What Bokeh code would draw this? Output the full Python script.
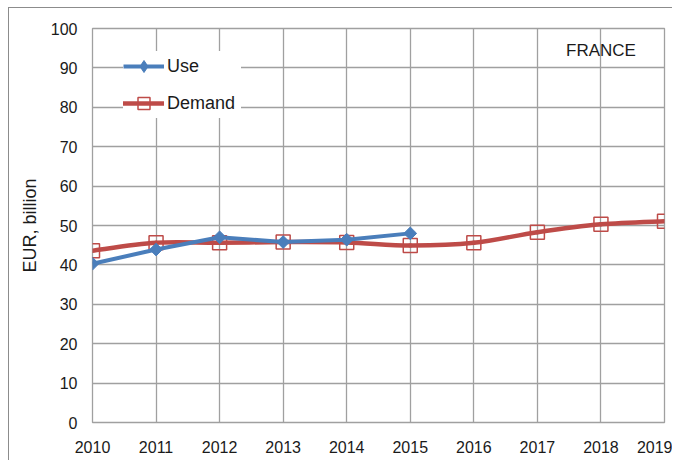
import math
from bokeh.plotting import figure
from bokeh.models import Legend, LegendItem, Label, Range1d, FixedTicker
from bokeh.embed import file_html
from bokeh.resources import INLINE

# ---- data ----
years = [2010, 2011, 2012, 2013, 2014, 2015, 2016, 2017, 2018, 2019]
use_years = [2010, 2011, 2012, 2013, 2014, 2015]
use_values = [40.3, 43.9, 47.0, 45.8, 46.4, 48.0]
demand_values = [43.6, 45.6, 45.6, 45.8, 45.7, 44.9, 45.6, 48.3, 50.3, 51.1]
y_ticks = [0, 10, 20, 30, 40, 50, 60, 70, 80, 90, 100]
x_ticks = years
country = "FRANCE"
y_title = "EUR, billion"
use_label = "Use"
demand_label = "Demand"

BLUE = "#4a7ebb"
RED = "#be4b48"
GRID = "#a0a0a0"
TXT = "#1a1a1a"
FONT = "Liberation Sans"

p = figure(width=664, height=453, output_backend="svg", toolbar_location=None,
           x_range=Range1d(2010, 2019), y_range=Range1d(0, 100),
           min_border_left=83, min_border_right=9, min_border_top=20, min_border_bottom=39,
           background_fill_color="white", border_fill_color="white",
           styles={"margin-left": "8px", "margin-top": "7px",
                   "border-left": "1px solid #8c8c8c", "border-top": "1px solid #8c8c8c"})

p.outline_line_color = GRID
p.outline_line_width = 1.3

p.xaxis.ticker = FixedTicker(ticks=x_ticks)
p.yaxis.ticker = FixedTicker(ticks=y_ticks)
p.xgrid.ticker = FixedTicker(ticks=x_ticks)
p.ygrid.ticker = FixedTicker(ticks=y_ticks)
for g in (p.xgrid, p.ygrid):
    g.grid_line_color = GRID
    g.grid_line_width = 1.3

for ax in (p.xaxis, p.yaxis):
    ax.axis_line_color = None
    ax.major_tick_line_color = None
    ax.minor_tick_line_color = None
    ax.major_tick_out = 0
    ax.major_tick_in = 0
    ax.major_label_text_font = FONT
    ax.major_label_text_font_size = "16px"
    ax.major_label_text_color = TXT
p.xaxis.major_label_standoff = 18
p.yaxis.major_label_standoff = 15
p.yaxis.axis_label = y_title
p.yaxis.axis_label_text_font = FONT
p.yaxis.axis_label_text_font_size = "18px"
p.yaxis.axis_label_text_font_style = "normal"
p.yaxis.axis_label_text_color = TXT
p.yaxis.axis_label_standoff = 8

# ---- Demand: smooth curve through the points (Catmull-Rom style Bezier) ----
n = len(years)
x0, y0, x1, y1, cx0, cy0, cx1, cy1 = [], [], [], [], [], [], [], []
for i in range(n - 1):
    ip = max(i - 1, 0)
    inn = min(i + 2, n - 1)
    x0.append(years[i]); y0.append(demand_values[i])
    x1.append(years[i + 1]); y1.append(demand_values[i + 1])
    cx0.append(years[i] + (years[i + 1] - years[ip]) / 6.0)
    cy0.append(demand_values[i] + (demand_values[i + 1] - demand_values[ip]) / 6.0)
    cx1.append(years[i + 1] - (years[inn] - years[i]) / 6.0)
    cy1.append(demand_values[i + 1] - (demand_values[inn] - demand_values[i]) / 6.0)

demand_curve = p.bezier(x0=x0, y0=y0, x1=x1, y1=y1, cx0=cx0, cy0=cy0, cx1=cx1, cy1=cy1,
                        line_color=RED, line_width=4.5, line_cap="round")
demand_pts = p.scatter(years, demand_values, marker="square", size=14,
                       fill_alpha=0, line_color=RED, line_width=1.5)

# ---- Use ----
use_line = p.line(use_years, use_values, line_color=BLUE, line_width=4)
use_pts = p.scatter(use_years, use_values, marker="square", angle=math.pi / 4, size=9,
                    fill_color=BLUE, line_color=BLUE)
# diamond used only for the legend symbol (hidden in the plot)
use_key = p.scatter(use_years, use_values, marker="diamond", size=13,
                    fill_color=BLUE, line_color=BLUE, visible=False)

legend = Legend(items=[LegendItem(label=use_label, renderers=[use_line, use_key]),
                       LegendItem(label=demand_label, renderers=[demand_curve, demand_pts])],
                location=(31, 304), orientation="vertical",
                background_fill_color="white", background_fill_alpha=1.0,
                border_line_color=None,
                label_text_font=FONT, label_text_font_size="18px", label_text_color=TXT,
                glyph_width=41, glyph_height=30, label_height=30, label_width=74, spacing=7,
                padding=6, margin=0, label_standoff=3)
p.add_layout(legend)

p.add_layout(Label(x=2018, y=94.5, text=country, text_align="center", text_baseline="middle",
                   text_font=FONT, text_font_size="17px", text_color=TXT))

open("out.html", "w").write(file_html(p, INLINE))
